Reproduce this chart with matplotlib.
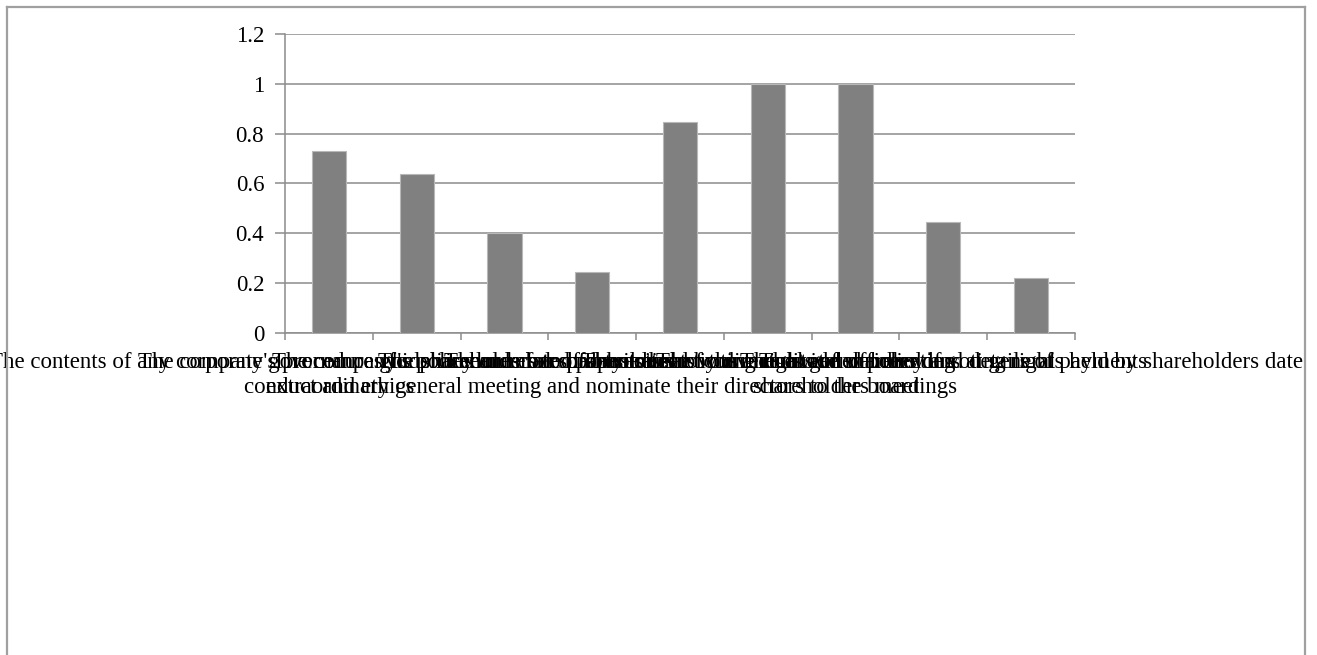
import matplotlib.pyplot as plt
import numpy as np
from matplotlib.lines import Line2D

plt.rcParams['font.family'] = ['Liberation Serif', 'DejaVu Serif']

labels = [
    "The contents of any corporate governance guidelines and code of business\nconduct and ethics",
    "The company's procedures for shareholders to propose items",
    "The company's policy on related party transactions",
    "The procedures for shareholders to convene an\nextraordinary general meeting and nominate their directors to the board",
    "The number of shares held by directors and officers",
    "The notice of the annual general meeting",
    "The voting rights of shareholders at general\nshareholders meetings",
    "The dividend policy and details of payments",
    "The total number of voting rights held by shareholders date",
]
values = [0.73, 0.64, 0.40, 0.245, 0.845, 1.0, 1.0, 0.445, 0.22]
yticks = [0, 0.2, 0.4, 0.6, 0.8, 1, 1.2]
ytick_labels = ["0", "0.2", "0.4", "0.6", "0.8", "1", "1.2"]

W, H = 1317, 655
fig = plt.figure(figsize=(W / 100, H / 100), dpi=100)
ax = fig.add_axes([285 / W, (H - 333) / H, 790 / W, 299 / H])

grid_c = '#8c8c8c'
x = np.arange(len(values))
ax.bar(x, values, width=0.39, color='#808080', edgecolor='#b8b8b8',
       linewidth=0.8, zorder=3)

ax.set_xlim(-0.5, len(values) - 0.5)
ax.set_ylim(0, 1.2)
ax.set_yticks(yticks)
ax.set_yticklabels(ytick_labels)
ax.yaxis.grid(True, color=grid_c, linewidth=1.1, zorder=0)

ax.set_xticks(x)
ax.set_xticklabels(labels, linespacing=1.25)
ax.set_xticks(np.arange(len(values) + 1) - 0.5, minor=True)

ax.tick_params(axis='x', which='major', length=0, pad=13.5, labelsize=16.5)
ax.tick_params(axis='x', which='minor', length=5, color=grid_c, width=1.1)
ax.tick_params(axis='y', length=7, color=grid_c, width=1.1, pad=8,
               labelsize=16.5)

for s in ['top', 'right']:
    ax.spines[s].set_visible(False)
for s in ['left', 'bottom']:
    ax.spines[s].set_color(grid_c)
    ax.spines[s].set_linewidth(1.1)

# outer chart frame
fc = '#a0a0a0'
fig.add_artist(Line2D([7 / W, 7 / W], [0, 1 - 7 / H], color=fc, lw=1.6))
fig.add_artist(Line2D([7 / W, 1305 / W], [1 - 7 / H, 1 - 7 / H], color=fc, lw=1.6))
fig.add_artist(Line2D([1305 / W, 1305 / W], [0, 1 - 7 / H], color=fc, lw=1.6))

fig.savefig('out.png', dpi=100)
